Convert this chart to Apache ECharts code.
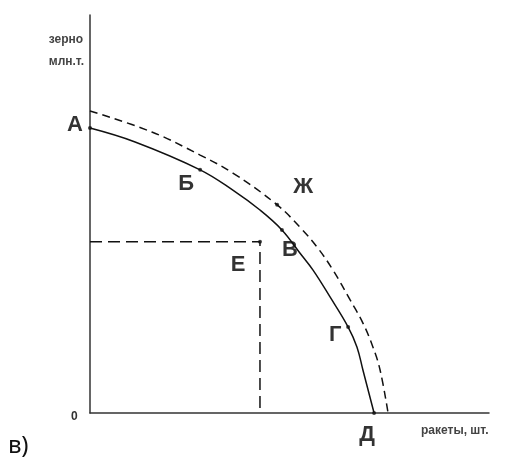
<!DOCTYPE html>
<html lang="ru">
<head>
<meta charset="UTF-8">
<title>Кривая производственных возможностей</title>
<script src="https://cdn.jsdelivr.net/npm/echarts@6/dist/echarts.min.js"></script>
<style>
  html, body { margin: 0; padding: 0; background: #fff; }
  #main { width: 508px; height: 464px; }
</style>
</head>
<body>
<div id="main"></div>
<script>
// ракеты (x) / зерно (y), условные единицы 0..100
var curveNow = [[0, 71.6], [11.3, 68.1], [27.6, 61.1], [35.8, 56.0], [42.6, 51.0], [48.1, 46.0],
                [52.6, 40.2], [55.9, 35.9], [60.2, 29.1], [64.7, 21.6], [66.9, 16.6], [68.4, 10.8], [71.2, 0]];
var curveNext = [[0, 75.9], [15.5, 70.6], [27.6, 64.8], [35.8, 60.3], [46.9, 52.3], [52.6, 46.7],
                 [56.9, 41.7], [60.9, 35.9], [65.2, 28.4], [68.4, 22.6], [70.9, 16.6], [72.7, 10.8], [74.7, 0]];
var pointNames = ['А', 'Б', 'В', 'Г', 'Д', 'Ж', 'Е'];
var pointValues = [[0, 71.6], [27.6, 61.1], [48.1, 46.0], [64.7, 21.6], [71.2, 0], [46.9, 52.3], [42.6, 43.0]];
var pointOffsets = [[-15, -3], [-14, 14], [8, 20], [-13, 8], [-7, 22], [26, -18], [-22, 23]];
var guideE = [[0, 43.0], [42.6, 43.0], [42.6, 0]];

var chart = echarts.init(document.getElementById('main'));

var points = pointNames.map(function (n, i) {
    return {
        name: n,
        value: pointValues[i],
        label: { offset: pointOffsets[i] }
    };
});

chart.setOption({
    animation: false,
    grid: { left: 90, right: 19, top: 15, bottom: 51 },
    xAxis: {
        type: 'value', min: 0, max: 100,
        axisLine: { show: true, onZero: false, lineStyle: { color: '#333', width: 1.5 } },
        axisTick: { show: false }, axisLabel: { show: false }, splitLine: { show: false }
    },
    yAxis: {
        type: 'value', min: 0, max: 100,
        axisLine: { show: true, onZero: false, lineStyle: { color: '#333', width: 1.5 } },
        axisTick: { show: false }, axisLabel: { show: false }, splitLine: { show: false }
    },
    series: [
        {
            type: 'line', data: curveNow, smooth: 0.4,
            showSymbol: false, lineStyle: { color: '#111', width: 1.5 }
        },
        {
            type: 'line', data: curveNext, smooth: 0.4,
            showSymbol: false, lineStyle: { color: '#111', width: 1.5, type: [8, 5] }
        },
        {
            type: 'line', data: guideE, showSymbol: false,
            lineStyle: { color: '#111', width: 1.5, type: [12, 6] }
        },
        {
            type: 'scatter', data: points, symbolSize: 4,
            itemStyle: { color: '#111' },
            label: {
                show: true, position: 'inside', formatter: '{b}',
                color: '#000', fontSize: 22, fontWeight: 'bold',
                fontFamily: 'Liberation Sans, Arial, sans-serif'
            }
        }
    ],
    graphic: [
        { type: 'text', right: 424, top: 29,
          style: { text: 'зерно\nмлн.т.', fill: '#444', font: 'bold 12px Liberation Sans', align: 'right', lineHeight: 22 } },
        { type: 'text', left: 421, top: 425,
          style: { text: 'ракеты, шт.', fill: '#444', font: 'bold 12px Liberation Sans' } },
        { type: 'text', left: 71, top: 411,
          style: { text: '0', fill: '#333', font: 'bold 12px Liberation Sans' } },
        { type: 'text', left: 8, top: 434,
          style: { text: 'в)', fill: '#111', font: '24px Noto Sans' } }
    ]
});
</script>
</body>
</html>
